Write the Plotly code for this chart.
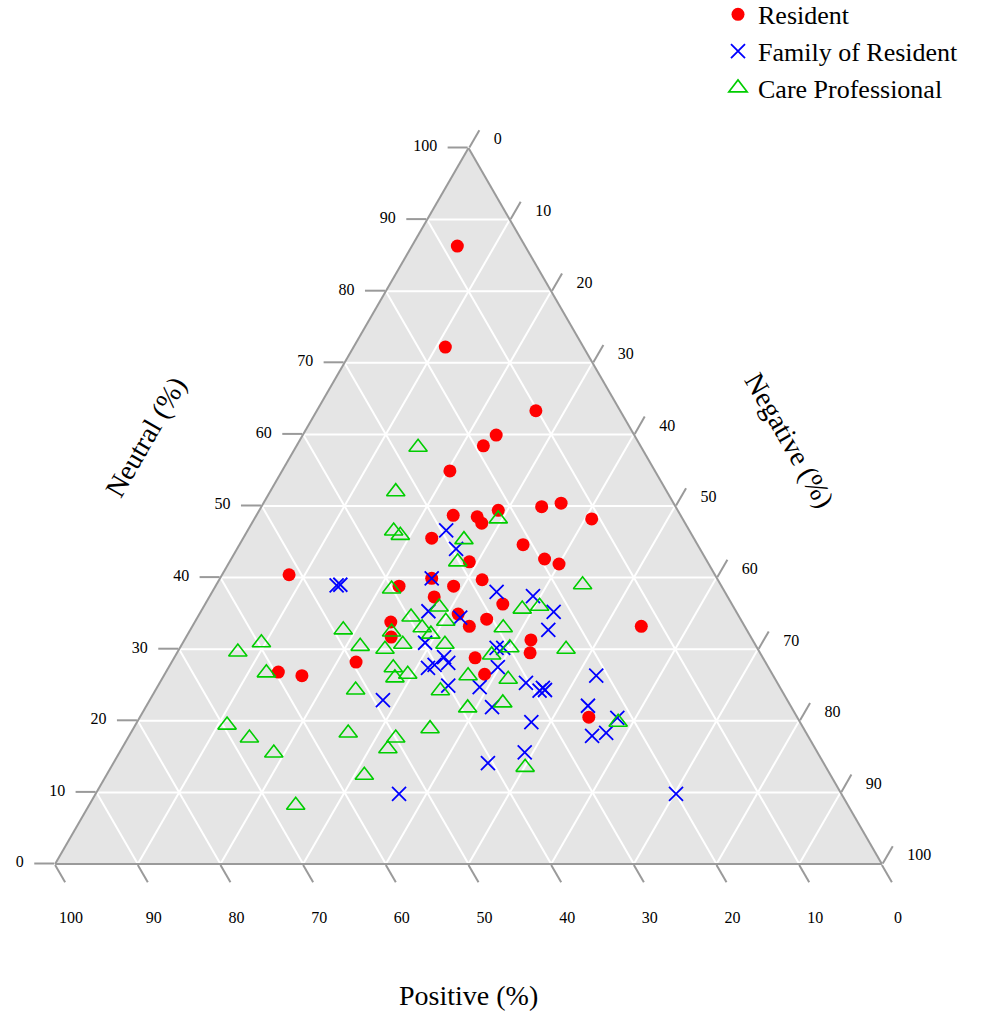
import plotly.graph_objects as go

# Resident
res_neutral = [86.3, 72.2, 63.3, 59.9, 58.4, 54.9, 48.7, 48.5, 47.6, 49.4, 49.9, 50.4, 48.2, 45.5, 44.6,
               42.6, 41.9, 42.2, 40.4, 38.8, 39.9, 38.8, 39.7, 37.3, 36.3, 34.9, 33.2, 34.2, 33.8, 31.7,
               31.3, 33.2, 29.5, 28.8, 26.5, 28.2, 26.8, 26.3, 20.5]
res_negative = [5.5, 11.1, 26.5, 23.4, 22.6, 20.3, 23.8, 26.8, 27.8, 28.9, 33.9, 36.0, 40.8, 22.8, 34.3,
                37.9, 40.0, 29.0, 8.1, 22.2, 25.6, 28.8, 31.8, 27.2, 36.0, 31.3, 33.5, 35.1, 23.7, 24.8,
                41.9, 54.3, 42.7, 36.4, 38.7, 22.3, 13.6, 16.7, 54.3]
res_positive = [8.2, 16.7, 10.2, 16.7, 19.0, 24.8, 27.5, 24.7, 24.6, 21.7, 16.2, 13.6, 11.0, 31.7, 21.1,
                19.5, 18.1, 28.8, 51.5, 39.0, 34.5, 32.4, 28.5, 35.5, 27.7, 33.8, 33.3, 30.7, 42.5, 43.5,
                26.8, 12.5, 27.8, 34.8, 34.8, 49.5, 59.6, 57.0, 25.2]

# Family of Resident
fam_neutral = [39.0, 38.9, 46.6, 44.0, 39.9, 38.0, 37.4, 35.2, 35.3, 34.4, 32.7, 30.9, 28.9, 28.1, 27.4,
               27.8, 24.9, 22.9, 24.7, 21.9, 27.5, 30.2, 30.2, 25.3, 24.2, 24.6, 24.3, 26.3, 22.1, 17.9,
               18.3, 20.4, 19.8, 15.6, 14.1, 9.8, 9.8]
fam_negative = [15.0, 14.6, 24.0, 26.5, 25.6, 34.4, 39.1, 42.7, 27.5, 31.8, 43.3, 29.3, 32.6, 33.5, 31.4,
                32.0, 35.1, 28.2, 39.0, 41.9, 39.8, 38.3, 39.1, 44.3, 46.5, 46.7, 47.1, 52.3, 53.4, 56.0,
                57.5, 57.8, 47.7, 49.0, 45.3, 36.7, 70.2]
fam_positive = [46.0, 46.5, 29.4, 29.5, 34.5, 27.6, 23.5, 22.1, 37.2, 33.8, 24.0, 39.8, 38.5, 38.4, 41.2,
                40.2, 40.0, 48.9, 36.3, 36.2, 32.7, 31.5, 30.7, 30.4, 29.3, 28.7, 28.6, 21.4, 24.5, 26.1,
                24.2, 21.8, 32.5, 35.4, 40.6, 53.5, 20.0]

# Care Professional
care_neutral = [58.2, 52.0, 46.5, 45.9, 48.2, 45.3, 42.2, 39.0, 38.4, 35.9, 34.5, 33.9, 33.0, 32.1, 35.6,
                36.0, 33.0, 32.7, 32.4, 30.7, 30.0, 30.4, 30.7, 29.2, 30.2, 30.0, 30.9, 29.6, 26.7, 27.4,
                26.0, 26.5, 26.3, 25.8, 24.3, 24.2, 21.8, 22.5, 18.9, 18.3, 17.6, 16.1, 19.4, 17.6, 15.5,
                12.4, 8.2, 13.5, 19.8]
care_negative = [14.8, 15.2, 17.7, 18.8, 29.5, 26.8, 27.6, 44.3, 21.5, 28.5, 25.8, 30.3, 27.9, 29.4, 38.7,
                 40.6, 37.7, 18.5, 24.5, 26.7, 24.9, 21.7, 31.8, 38.2, 39.9, 46.8, 9.5, 7.3, 12.2, 27.2,
                 28.1, 29.4, 36.8, 41.9, 24.2, 34.5, 39.0, 42.9, 35.9, 26.3, 32.4, 32.2, 11.1, 14.7, 18.7,
                 31.2, 25.0, 50.1, 58.2]
care_positive = [27.0, 32.8, 35.8, 35.3, 22.3, 27.9, 30.2, 16.7, 40.1, 35.6, 39.7, 35.8, 39.1, 38.5, 25.7,
                 23.4, 29.3, 48.8, 43.1, 42.6, 45.1, 47.9, 37.5, 32.6, 29.9, 23.2, 59.6, 63.1, 61.1, 45.4,
                 45.9, 44.1, 36.9, 32.3, 51.5, 41.3, 39.2, 34.6, 45.2, 55.4, 50.0, 51.7, 69.5, 67.7, 65.8,
                 56.4, 66.8, 36.4, 22.0]

tick_vals = [0, 10, 20, 30, 40, 50, 60, 70, 80, 90, 100]
tick_labels = ["0", "10", "20", "30", "40", "50", "60", "70", "80", "90", "100"]

FONT = "Liberation Serif"
NB = "\u00a0"

a_text = [t + NB * 2 for t in tick_labels]
b_text = [NB + "<br>" + NB * 3 + t for t in tick_labels]
c_text = [NB + "<br>" + NB * 3 + t for t in tick_labels]

fig = go.Figure()
fig.add_trace(go.Scatterternary(
    a=res_neutral, b=res_positive, c=res_negative, mode="markers", name="Resident",
    marker=dict(symbol="circle", size=13, color="#FF0000")))
fig.add_trace(go.Scatterternary(
    a=fam_neutral, b=fam_positive, c=fam_negative, mode="markers", name="Family of Resident",
    marker=dict(symbol="x-thin-open", size=14, color="#0000FF", line=dict(color="#0000FF", width=1.8))))
fig.add_trace(go.Scatterternary(
    a=care_neutral, b=care_positive, c=care_negative, mode="markers", name="Care Professional",
    marker=dict(symbol="triangle-up-open", size=16, color="#00CD00", line=dict(color="#00CD00", width=1.6))))


def axis(texts):
    return dict(
        tickmode="array", tickvals=tick_vals, ticktext=texts,
        ticks="outside", ticklen=20, tickwidth=2, tickcolor="#9a9a9a",
        showline=True, linecolor="#9a9a9a", linewidth=2,
        showgrid=True, gridcolor="white", gridwidth=1.5,
        tickfont=dict(family=FONT, size=16, color="black"),
        min=0, title=dict(text=""),
    )


fig.update_layout(
    width=993, height=1011,
    margin=dict(l=0, r=0, t=0, b=0, autoexpand=False),
    paper_bgcolor="white",
    font=dict(family=FONT, color="black"),
    ternary=dict(
        sum=100,
        bgcolor="#E5E5E5",
        domain=dict(x=[55 / 993, 882 / 993], y=[1 - 864 / 1011, 1 - 148 / 1011]),
        aaxis=axis(a_text),
        baxis=axis(b_text),
        caxis=axis(c_text),
    ),
    legend=dict(
        x=718 / 993, y=1.009, xanchor="left", yanchor="top",
        font=dict(family=FONT, size=26, color="black"),
        bgcolor="rgba(0,0,0,0)", itemsizing="trace",
        tracegroupgap=0,
    ),
    annotations=[
        dict(text="Neutral (%)", x=145 / 993, y=1 - 437 / 1011, xref="paper", yref="paper",
             xanchor="center", yanchor="middle",
             showarrow=False, textangle=-60, font=dict(family=FONT, size=28)),
        dict(text="Negative (%)", x=790 / 993, y=1 - 440 / 1011, xref="paper", yref="paper",
             xanchor="center", yanchor="middle",
             showarrow=False, textangle=60, font=dict(family=FONT, size=28)),
        dict(text="Positive (%)", x=468 / 993, y=1 - 995 / 1011, xref="paper", yref="paper",
             xanchor="center", yanchor="middle",
             showarrow=False, font=dict(family=FONT, size=28)),
    ],
)

fig.write_html("out.html", config={"displayModeBar": False},
               post_script="document.body.style.margin='0px';document.body.style.overflow='hidden';")
